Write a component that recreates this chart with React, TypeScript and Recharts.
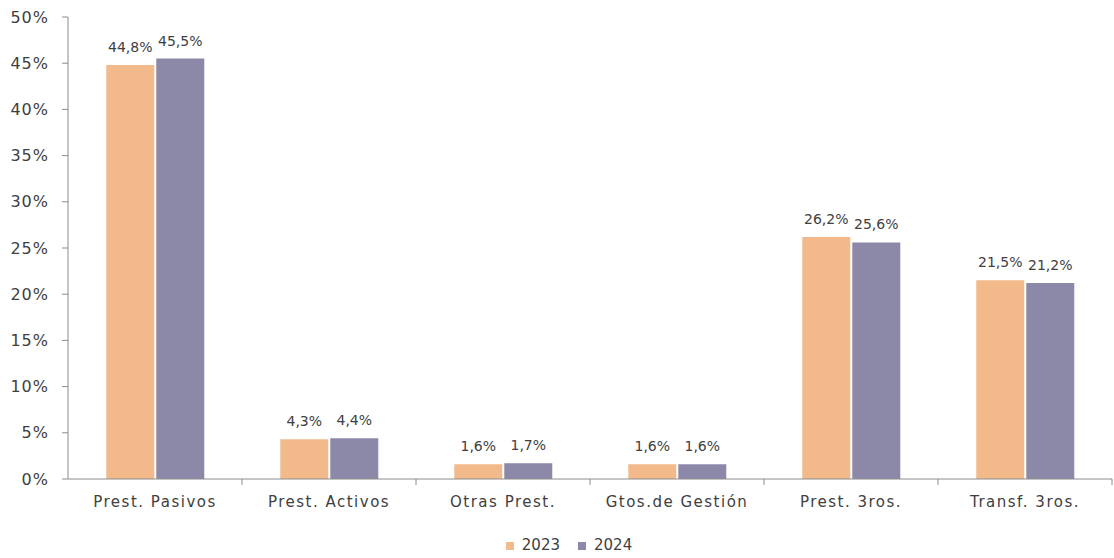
import { BarChart, Bar, XAxis, YAxis, Legend, LabelList } from "recharts";

const categories = [
  "Prest. Pasivos",
  "Prest. Activos",
  "Otras Prest.",
  "Gtos.de Gestión",
  "Prest. 3ros.",
  "Transf. 3ros.",
];
const values2023 = [44.8, 4.3, 1.6, 1.6, 26.2, 21.5];
const values2024 = [45.5, 4.4, 1.7, 1.6, 25.6, 21.2];
const yTicks = [0, 5, 10, 15, 20, 25, 30, 35, 40, 45, 50];

const data = categories.map((name, i) => ({
  name,
  y2023: values2023[i],
  y2024: values2024[i],
}));

const FONT = "'DejaVu Sans', Verdana, sans-serif";
const TEXT = "#404040";
const AXIS = "#8c8c8c";
const WIDTH = 1114;
const HEIGHT = 558;
const LEFT = 68;
const RIGHT = 2;
const BAND = (WIDTH - LEFT - RIGHT) / categories.length;

const fmt = (v: number) => `${v.toFixed(1).replace(".", ",")}%`;

// category label plus a tick mark on the right edge of each band
function CategoryTick(props: any) {
  const { x, y, payload } = props;
  const bx = x + BAND / 2;
  return (
    <g>
      <line x1={bx} x2={bx} y1={y - 8} y2={y - 2} stroke={AXIS} />
      <text
        x={x}
        y={y + 20}
        textAnchor="middle"
        fill={TEXT}
        fontSize={15}
        letterSpacing={1.5}
        fontFamily={FONT}
      >
        {payload.value}
      </text>
    </g>
  );
}

export default function App() {
  return (
    <div style={{ position: "absolute", left: 0, top: 0, background: "#fff" }}>
      <BarChart
        width={WIDTH}
        height={HEIGHT}
        data={data}
        margin={{ top: 17, right: RIGHT, left: 0, bottom: 4 }}
        barCategoryGap="22%"
        barGap={2}
      >
        <XAxis
          dataKey="name"
          stroke={AXIS}
          tickLine={false}
          tick={<CategoryTick />}
          height={57}
          interval={0}
        />
        <YAxis
          width={LEFT}
          domain={[0, 50]}
          ticks={yTicks}
          tickFormatter={(v) => `${v}%`}
          stroke={AXIS}
          tickSize={6}
          tickMargin={13}
          tick={{ fill: TEXT, fontSize: 16, fontFamily: FONT, letterSpacing: 1 }}
          interval={0}
        />
        <Legend
          verticalAlign="bottom"
          align="center"
          iconType="square"
          iconSize={8}
          wrapperStyle={{ paddingLeft: 22 }}
          formatter={(value) => (
            <span
              style={{
                color: TEXT,
                fontSize: 15,
                fontFamily: FONT,
                marginLeft: 4,
                marginRight: 8,
              }}
            >
              {value}
            </span>
          )}
        />
        <Bar dataKey="y2023" name="2023" fill="#F2B98A" isAnimationActive={false}>
          <LabelList
            dataKey="y2023"
            position="top"
            offset={13}
            formatter={(v: any) => fmt(Number(v))}
            style={{ fill: TEXT, fontSize: 14, fontFamily: FONT }}
          />
        </Bar>
        <Bar dataKey="y2024" name="2024" fill="#8B88A8" isAnimationActive={false}>
          <LabelList
            dataKey="y2024"
            position="top"
            offset={13}
            formatter={(v: any) => fmt(Number(v))}
            style={{ fill: TEXT, fontSize: 14, fontFamily: FONT }}
          />
        </Bar>
      </BarChart>
    </div>
  );
}
